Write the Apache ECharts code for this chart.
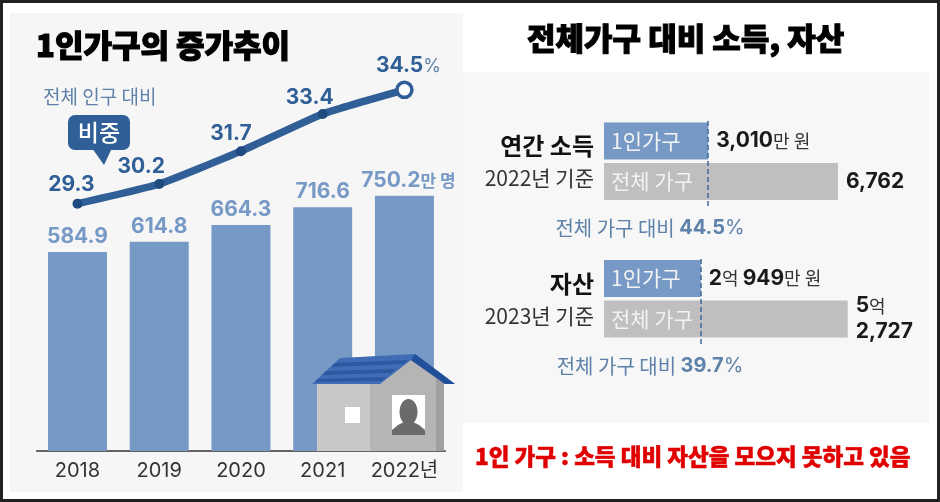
<!DOCTYPE html>
<html>
<head>
<meta charset="utf-8">
<title>1인가구의 증가추이</title>
<style>
  html, body { margin: 0; padding: 0; background: #fff; }
  #chart { width: 940px; height: 502px; }
</style>
<script src="https://cdn.jsdelivr.net/npm/echarts@6/dist/echarts.min.js"></script>
</head>
<body>
<div id="chart"></div>
<script>
'use strict';

/* data */
var years = ['2018', '2019', '2020', '2021', '2022년'];
var households = [584.9, 614.8, 664.3, 716.6, 750.2];
var shares = [29.3, 30.2, 31.7, 33.4, 34.5];

var groups = ['1인가구', '전체 가구'];
var income = [3010, 6762];
var assets = [20949, 52727];
var incomeLabels = ['{n|3,010}{u|만 원}', '{n|6,762}'];
var assetLabels = ['{n|2}{u|억 }{n|949}{u|만 원}', '{n|5}{u|억}\n{n|2,727}'];
var incomeRatio = '44.5';
var assetRatio = '39.7';

/* styles */
var FONT = 'Inter, "Noto Sans CJK KR", sans-serif';
var KR = '"Noto Sans CJK KR", sans-serif';
var BLUE = '#7799c6';
var GREY = '#bfbfbf';
var NAVY = '#2f5f96';
var SOFT = '#5f82aa';

// label nudges for the share line, one per year
var shareOffsets = [[-6, -4], [-18, -2], [-10, -2], [-13, -1], [4, -4]];

var chart = echarts.init(document.getElementById('chart'));

function poly(points, color, z) {
  return { type: 'polygon', z: z, silent: true, shape: { points: points }, style: { fill: color } };
}
function box(x, y, w, h, color, z, r) {
  return { type: 'rect', z: z, silent: true, shape: { x: x, y: y, width: w, height: h, r: r || 0 }, style: { fill: color } };
}
function text(x, y, str, size, color, weight, align, extra) {
  var style = { x: x, y: y, text: str, fill: color, fontFamily: KR, fontSize: size, fontWeight: weight || 400,
    align: align || 'left', verticalAlign: 'middle' };
  for (var k in extra) { style[k] = extra[k]; }
  return { type: 'text', z: 20, silent: true, style: style };
}
function ratioText(x, y, value) {
  return text(x, y, '{l|전체 가구 대비 }{v|' + value + '}{p|%}', 20, SOFT, 400, 'center', {
    rich: {
      l: { fontFamily: KR, fontSize: 20, color: SOFT },
      v: { fontFamily: FONT, fontSize: 20, fontWeight: 700, color: NAVY },
      p: { fontFamily: FONT, fontSize: 20, color: SOFT }
    }
  });
}

function hBar(gridIndex, values, labels, max, lineTop, lineBottom) {
  var name = gridIndex === 1 ? 'income' : 'assets';
  var rich = {
    n: { fontFamily: FONT, fontSize: 21, fontWeight: 700, color: '#1a1a1a', lineHeight: 26 },
    u: { fontFamily: KR, fontSize: 18, color: '#333', lineHeight: 26 }
  };
  return [{
    name: name,
    type: 'bar',
    xAxisIndex: gridIndex,
    yAxisIndex: gridIndex + 1,
    barWidth: 37,
    barGap: '-100%',
    silent: true,
    data: values.map(function(v, i) {
      return { value: v, itemStyle: { color: i === 0 ? BLUE : GREY } };
    }),
    label: {
      show: true,
      position: 'insideLeft',
      distance: 7,
      formatter: '{b}',
      color: '#f2f2f2',
      fontFamily: KR,
      fontSize: 21
    },
    markLine: {
      silent: true,
      symbol: 'none',
      label: { show: false },
      lineStyle: { color: '#3f6a9f', type: [5, 3], width: 1.5 },
      data: [[{ xAxis: values[0], y: lineTop }, { xAxis: values[0], y: lineBottom }]]
    }
  }, {
    name: name + ' label',
    type: 'bar',
    xAxisIndex: gridIndex,
    yAxisIndex: gridIndex + 1,
    barWidth: 37,
    barGap: '-100%',
    silent: true,
    itemStyle: { color: 'transparent' },
    data: values.map(function(v, i) {
      return { value: v, label: { formatter: labels[i] } };
    }),
    label: { show: true, position: 'right', distance: 8, align: 'left', rich: rich }
  }];
}

var option = {
  backgroundColor: '#fff',
  animation: false,
  textStyle: { fontFamily: FONT },
  grid: [
    { left: 36.6, width: 408.7, top: 60, height: 391 },
    { left: 604, width: 242.2, top: 120.75, height: 81 },
    { left: 604, width: 254.2, top: 258.25, height: 81 },
    { left: 36.6, width: 408.7, top: 78.9, height: 131.4 }
  ],
  xAxis: [
    {
      type: 'category', gridIndex: 0, data: years,
      axisLine: { lineStyle: { color: '#333', width: 1.5 } },
      axisTick: { show: false },
      axisLabel: { color: '#333', fontFamily: FONT, fontSize: 20, margin: 10, interval: 0 }
    },
    { type: 'value', gridIndex: 1, min: 0, max: 7000, show: false },
    { type: 'value', gridIndex: 2, min: 0, max: 55000, show: false },
    { type: 'category', gridIndex: 3, data: years, show: false }
  ],
  yAxis: [
    { type: 'value', gridIndex: 0, min: 0, max: 1149.3, show: false },
    { type: 'value', gridIndex: 3, min: 29, max: 35, show: false },
    { type: 'category', gridIndex: 1, data: groups, inverse: true, show: false },
    { type: 'category', gridIndex: 2, data: groups, inverse: true, show: false }
  ],
  series: [
    {
      name: '1인가구',
      type: 'bar',
      xAxisIndex: 0,
      yAxisIndex: 0,
      barWidth: 59,
      silent: true,
      itemStyle: { color: BLUE },
      data: households.map(function(v, i) {
        return i === 4 ? { value: v, label: { formatter: '{n|750.2}{u|만 명}', offset: [4, 0] } } : v;
      }),
      label: {
        show: true,
        position: 'top',
        distance: 5,
        color: BLUE,
        fontFamily: FONT,
        fontSize: 21,
        fontWeight: 700,
        rich: {
          n: { fontFamily: FONT, fontSize: 21, fontWeight: 700, color: BLUE },
          u: { fontFamily: KR, fontSize: 17, color: BLUE }
        }
      }
    },
    {
      name: '비중',
      type: 'line',
      xAxisIndex: 3,
      yAxisIndex: 1,
      smooth: 0.15,
      silent: true,
      z: 5,
      symbol: 'circle',
      symbolSize: 10,
      lineStyle: { color: NAVY, width: 7.5 },
      itemStyle: { color: '#1f4a80' },
      data: shares.map(function(v, i) {
        var item = {
          value: v,
          label: { offset: shareOffsets[i], formatter: i === 4 ? '{n|' + v + '}{p|%}' : '{n|' + v + '}' }
        };
        if (i === 4) {
          item.symbolSize = 15;
          item.itemStyle = { color: '#fff', borderColor: NAVY, borderWidth: 3.5 };
        }
        return item;
      }),
      label: {
        show: true,
        position: 'top',
        distance: 0,
        rich: {
          n: { fontFamily: FONT, fontSize: 21, fontWeight: 700, color: NAVY },
          p: { fontFamily: FONT, fontSize: 18, color: SOFT }
        }
      }
    }
  ].concat(
    hBar(1, income, incomeLabels, 7000, 121, 209),
    hBar(2, assets, assetLabels, 55000, 259, 347)
  ),
  graphic: [
    // frame and panels
    box(0, 0, 940, 3, '#222', -3),
    box(0, 499, 940, 3, '#222', -3),
    box(0, 0, 3, 502, '#222', -3),
    box(937, 0, 3, 502, '#222', -3),
    box(10, 13, 453, 479, '#f6f6f6', -2),
    box(463, 72, 466, 351, '#f7f7f7', -2),

    // titles
    text(36, 45, '1인가구의 증가추이', 31, '#000', 900, 'left', { stroke: '#000', lineWidth: 1.2 }),
    text(527, 38, '전체가구 대비 소득, 자산', 31, '#000', 900, 'left', { stroke: '#000', lineWidth: 1 }),
    text(43, 97, '전체 인구 대비', 19, SOFT),

    // speech bubble
    box(68, 115, 62, 35, NAVY, 19, 7),
    poly([[92, 148], [112, 148], [104, 165]], NAVY, 19),
    text(99, 132, '비중', 23, '#fff', 500, 'center'),

    // right panel captions
    text(594, 146, '연간 소득', 24, '#111', 700, 'right'),
    text(594, 178, '2022년 기준', 21, '#333', 400, 'right'),
    ratioText(650, 228, incomeRatio),
    text(594, 284, '자산', 24, '#111', 700, 'right'),
    text(594, 316, '2023년 기준', 21, '#333', 400, 'right'),
    ratioText(650, 366, assetRatio),
    text(475, 456, '1인 가구 : 소득 대비 자산을 모으지 못하고 있음', 22.5, '#e00000', 900, 'left', { stroke: '#e00000', lineWidth: 0.5 }),

    // house
    box(317, 384, 54, 67, '#c8c8c8', 10),
    poly([[370, 384], [410, 358], [444, 383], [444, 451], [370, 451]], '#b5b5b5', 10),
    poly([[436, 378], [444, 383], [444, 451], [436, 451]], '#a0a0a0', 11),
    box(345, 407, 15, 16, '#fff', 11),
    box(392, 395, 33, 40, '#fff', 11),
    { type: 'ellipse', z: 12, silent: true, shape: { cx: 408.5, cy: 412, rx: 9, ry: 13 }, style: { fill: '#6b6b6b' } },
    poly([[392, 435], [392, 430], [398, 425], [404, 422], [413, 422], [419, 425], [425, 430], [425, 435]], '#6b6b6b', 12),
    poly([[312, 384], [340, 358], [415, 354], [455, 384], [445, 384], [411, 360], [380, 384]], '#3f6cb5', 13),
    poly([[335, 363], [408, 360], [403, 364], [331, 367]], '#2c58a0', 14),
    poly([[326, 371], [396, 369], [391, 373], [322, 375]], '#2c58a0', 14),
    poly([[318, 379], [386, 377], [382, 381], [315, 382]], '#2c58a0', 14),
    poly([[415, 354], [455, 384], [445, 384], [411, 360]], '#1f5099', 14)
  ]
};

chart.setOption(option);
</script>
</body>
</html>
